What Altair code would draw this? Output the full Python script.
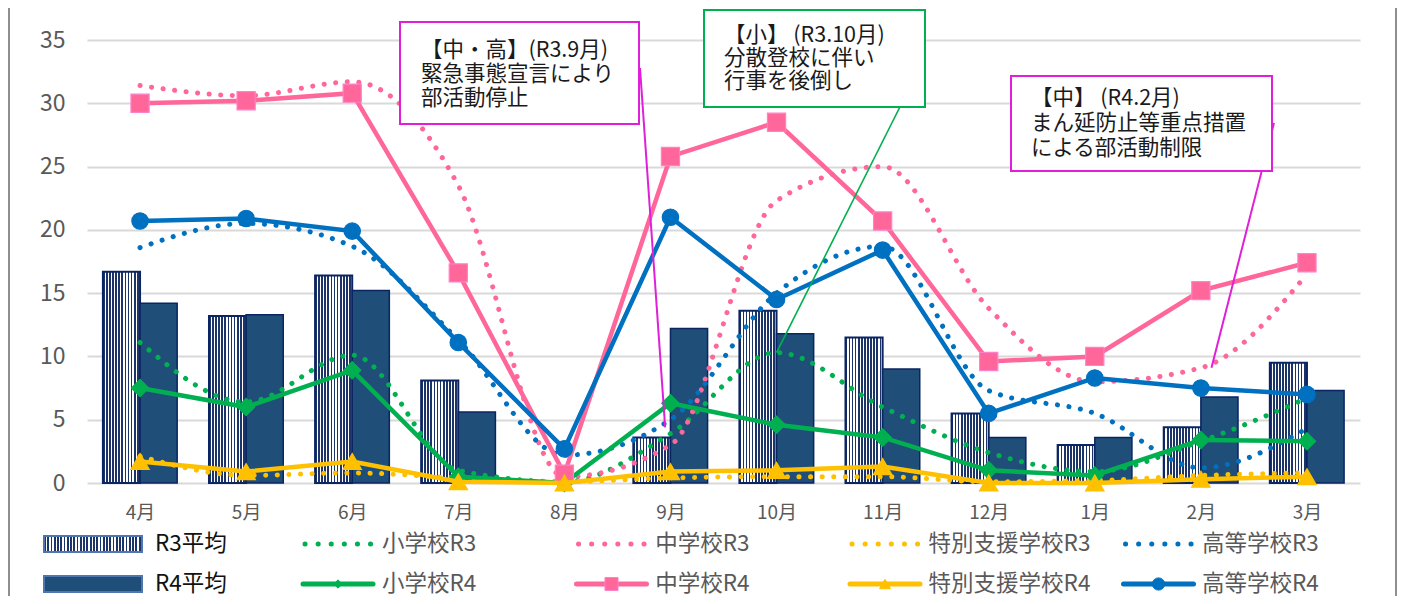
import json
import altair as alt
import pandas as pd

# ---------------- data ----------------
months = ["4月", "5月", "6月", "7月", "8月", "9月", "10月", "11月", "12月", "1月", "2月", "3月"]
r3_avg = [16.7, 13.2, 16.4, 8.1, 0.0, 3.6, 13.6, 11.5, 5.5, 3.0, 4.4, 9.5]
r4_avg = [14.2, 13.3, 15.2, 5.6, 0.0, 12.2, 11.8, 9.0, 3.6, 3.6, 6.8, 7.3]

sho_r3 = [11.1, 6.4, 10.1, 1.0, 0.1, 3.9, 10.3, 6.0, 2.4, 0.9, 3.3, 6.7]
chu_r3 = [31.4, 30.6, 31.7, 23.5, 0.5, 3.0, 22.3, 25.0, 13.8, 8.0, 9.1, 16.5]
toku_r3 = [2.1, 0.6, 0.8, 0.4, 0.1, 0.4, 0.5, 0.5, 0.1, 0.2, 0.6, 0.8]
kou_r3 = [18.6, 20.5, 18.7, 11.3, 2.2, 5.0, 15.0, 18.7, 7.3, 5.5, 1.2, 4.3]

sho_r4 = [7.5, 6.0, 8.9, 0.5, 0.0, 6.3, 4.6, 3.6, 1.0, 0.6, 3.4, 3.3]
chu_r4 = [30.0, 30.2, 30.8, 16.6, 0.7, 25.8, 28.5, 20.7, 9.6, 10.0, 15.2, 17.4]
toku_r4 = [1.7, 0.9, 1.7, 0.1, 0.0, 0.9, 1.0, 1.3, 0.0, 0.0, 0.3, 0.5]
kou_r4 = [20.7, 20.9, 19.9, 11.1, 2.7, 21.0, 14.5, 18.4, 5.5, 8.3, 7.5, 7.0]

schools = ["小学校", "中学校", "特別支援学校", "高等学校"]
bar_names = ["R3平均", "R4平均"]

ann_texts = [
    ["【中・高】(R3.9月)", "緊急事態宣言により", "部活動停止"],
    ["【小】 (R3.10月)", "分散登校に伴い", "行事を後倒し"],
    ["【中】 (R4.2月)", "まん延防止等重点措置", "による部活動制限"],
]
ann_month = [4.95, 6.0, 10.1]
ann_value = [4.4, 10.3, 9.1]

# ---------------- styles ----------------
FONT = "Noto Sans CJK JP"
colors = ["#00B050", "#FF6699", "#FFC000", "#0070C0"]
shapes = ["diamond", "square", "triangle-up", "circle"]
sizes = [300, 330, 340, 270]
leg_sizes = [70, 170, 120, 150]
NAVY = "#1F4E79"
DARK = "#0B2462"
MAG = "#E020D8"

W, H = 1273, 443
PAD = {"left": 79, "top": 32, "right": 37, "bottom": 113}

xs = alt.Scale(domain=[-0.5, 11.5], nice=False, zero=False)
ys = alt.Scale(domain=[0, 35], nice=False, zero=True)
label_expr = json.dumps(months, ensure_ascii=False) + "[datum.value]"
x_axis = alt.Axis(values=list(range(12)), labelExpr=label_expr, title=None, grid=False,
                  domain=False, ticks=False, tickSize=0, labelPadding=20, labelFontSize=19,
                  labelColor="#595959", labelFont=FONT, labelFlush=False)
y_axis = alt.Axis(values=list(range(0, 36, 5)), title=None, grid=True, gridColor="#D9D9D9",
                  gridWidth=2, domain=False, ticks=False, tickSize=0, labelPadding=22,
                  labelFontSize=23, labelColor="#595959", labelFont=FONT)


def stripes(n, dark="#1C3468", light="#FFFFFF", frac=0.55):
    stops = []
    for i in range(n):
        a = i / n
        b = (i + frac) / n
        c = (i + 1) / n
        stops += [{"offset": a, "color": dark}, {"offset": b, "color": dark},
                  {"offset": b, "color": light}, {"offset": min(c, 1.0), "color": light}]
    return {"gradient": "linear", "x1": 0, "y1": 0, "x2": 1, "y2": 0, "stops": stops}


def fixed():
    return alt.Chart(pd.DataFrame({"k": [0]}))


layers = []

# frame borders
for bx in (-78, 1309):
    layers.append(fixed().mark_rule(color="#8F8F8F", strokeWidth=2).encode(
        x=alt.value(bx), y=alt.value(-32), y2=alt.value(560)))

# bars
bar_df = pd.DataFrame({"m": list(range(12)), "R3": r3_avg, "R4": r4_avg})
layers.append(
    alt.Chart(bar_df).transform_filter("datum.R3 > 0")
    .transform_calculate(xa="datum.m - 0.35", xb="datum.m")
    .mark_rect(fill=stripes(12), stroke=DARK, strokeWidth=2)
    .encode(x=alt.X("xa:Q", scale=xs, axis=x_axis), x2="xb:Q",
            y=alt.Y("R3:Q", scale=ys, axis=y_axis), y2=alt.datum(0))
)
layers.append(
    alt.Chart(bar_df).transform_filter("datum.R4 > 0")
    .transform_calculate(xa="datum.m", xb="datum.m + 0.35")
    .mark_rect(fill=NAVY, stroke=DARK, strokeWidth=1.5)
    .encode(x=alt.X("xa:Q", scale=xs, axis=x_axis), x2="xb:Q",
            y=alt.Y("R4:Q", scale=ys, axis=y_axis), y2=alt.datum(0))
)

# R3 dotted smoothed lines
for vals, col in zip([sho_r3, chu_r3, toku_r3, kou_r3], colors):
    df = pd.DataFrame({"m": list(range(12)), "v": vals})
    layers.append(
        alt.Chart(df).mark_line(color=col, strokeWidth=5, strokeDash=[0.1, 11.5],
                                strokeCap="round", interpolate="monotone")
        .encode(x=alt.X("m:Q", scale=xs, axis=x_axis), y=alt.Y("v:Q", scale=ys, axis=y_axis))
    )

# R4 solid lines with markers
for vals, col, shp, sz in zip([sho_r4, chu_r4, toku_r4, kou_r4], colors, shapes, sizes):
    df = pd.DataFrame({"m": list(range(12)), "v": vals})
    base = alt.Chart(df).encode(x=alt.X("m:Q", scale=xs, axis=x_axis),
                                y=alt.Y("v:Q", scale=ys, axis=y_axis))
    layers.append(base.mark_line(color=col, strokeWidth=4.5))
    stroke = "#FF80CC" if shp == "square" else col
    layers.append(base.mark_point(shape=shp, filled=True, size=sz, color=col,
                                  stroke=stroke, strokeWidth=1.2, opacity=1))

# annotations: leader lines, boxes, texts
boxes = [(313, 552, -18, 84, MAG), (617, 838, -30, 67, "#00B050"), (924, 1185, 36, 131, MAG)]
lead_start = [(553, 28), (838, 17), (1187, 83)]
lead_w = [2, 1.6, 2]
text_pos = [(334, 11), (637, -4), (944, 59)]   # x, centre of the first line
line_gap = [24, 23, 25]

for i in range(3):
    ldf = pd.DataFrame({"m": [ann_month[i]], "v": [ann_value[i]]})
    layers.append(
        alt.Chart(ldf).mark_rule(color=boxes[i][4], strokeWidth=lead_w[i])
        .encode(x=alt.X("m:Q", scale=xs, axis=x_axis), y=alt.Y("v:Q", scale=ys, axis=y_axis),
                x2=alt.value(lead_start[i][0]), y2=alt.value(lead_start[i][1]))
    )
for i in range(3):
    x1, x2, y1, y2, col = boxes[i]
    layers.append(fixed().mark_rect(fill="white", stroke=col, strokeWidth=2).encode(
        x=alt.value(x1), x2=alt.value(x2), y=alt.value(y1), y2=alt.value(y2)))
    tx, ty = text_pos[i]
    layers.append(fixed().mark_text(align="left", baseline="middle", font=FONT,
                                    fontSize=21.5, lineHeight=line_gap[i],
                                    color="#1A1A1A").encode(
        x=alt.value(tx), y=alt.value(ty), text=alt.value(ann_texts[i])))

# legend
ROW = [504, 544]
# bar swatches
layers.append(fixed().mark_rect(fill=stripes(30), stroke="#4F76AE", strokeWidth=2).encode(
    x=alt.value(-43), x2=alt.value(55), y=alt.value(ROW[0] - 8), y2=alt.value(ROW[0] + 8)))
layers.append(fixed().mark_rect(fill=NAVY, stroke="#4F76AE", strokeWidth=2).encode(
    x=alt.value(-43), x2=alt.value(55), y=alt.value(ROW[1] - 8), y2=alt.value(ROW[1] + 8)))
for r, name in enumerate(bar_names):
    layers.append(fixed().mark_text(align="left", baseline="middle", font=FONT, fontSize=22.5,
                                    color="#111111").encode(
        x=alt.value(68), y=alt.value(ROW[r]), text=alt.value(name)))

for k, (sch, col, shp, ls) in enumerate(zip(schools, colors, shapes, leg_sizes)):
    sx = 216 + 273.5 * k
    tx = 295 + 273.3 * k
    # R3 dotted
    layers.append(fixed().mark_rule(color=col, strokeWidth=5, strokeDash=[0.1, 13],
                                    strokeCap="round").encode(
        x=alt.value(sx + 2), x2=alt.value(sx + 70), y=alt.value(ROW[0])))
    # R4 solid + marker
    layers.append(fixed().mark_rule(color=col, strokeWidth=5, strokeCap="round").encode(
        x=alt.value(sx), x2=alt.value(sx + 70), y=alt.value(ROW[1])))
    stroke = "#FF80CC" if shp == "square" else col
    layers.append(fixed().mark_point(shape=shp, filled=True, size=ls, color=col, stroke=stroke,
                                     strokeWidth=1, opacity=1).encode(
        x=alt.value(sx + 35), y=alt.value(ROW[1])))
    for r, suffix in enumerate(["R3", "R4"]):
        layers.append(fixed().mark_text(align="left", baseline="middle", font=FONT, fontSize=22.5,
                                        color="#595959").encode(
            x=alt.value(tx), y=alt.value(ROW[r]), text=alt.value(sch + suffix)))

chart = alt.layer(*layers).properties(
    width=W, height=H, padding=PAD,
    autosize=alt.AutoSizeParams(type="none"), background="white",
).configure_view(stroke=None)

chart.save("out.html", embed_options={"renderer": "svg", "actions": False})
